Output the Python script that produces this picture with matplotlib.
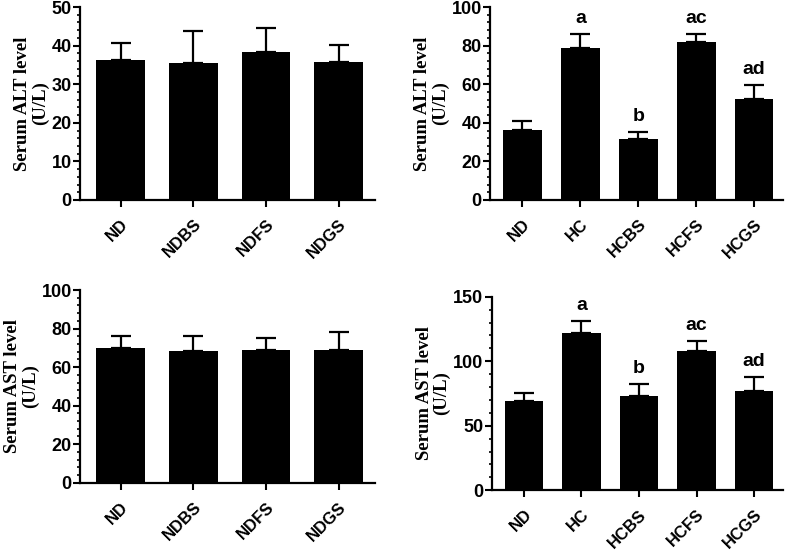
import numpy as np
import matplotlib
matplotlib.use("Agg")
from matplotlib import pyplot as plt
from matplotlib.ticker import AutoMinorLocator, MultipleLocator

plt.rcParams["font.family"] = ["Liberation Sans", "DejaVu Sans"]
plt.rcParams["font.weight"] = "bold"

# Normal-diet groups
nd_groups = ["ND", "NDBS", "NDFS", "NDGS"]
nd_alt_mean = [36.4, 35.4, 38.3, 35.7]
nd_alt_err = [4.4, 8.4, 6.3, 4.4]
nd_ast_mean = [69.7, 68.5, 69.0, 69.0]
nd_ast_err = [6.4, 7.6, 6.3, 9.4]

# High-cholesterol groups
hc_groups = ["ND", "HC", "HCBS", "HCFS", "HCGS"]
hc_alt_mean = [36.3, 78.9, 31.4, 81.9, 52.2]
hc_alt_err = [4.8, 7.3, 3.7, 4.3, 7.2]
hc_ast_mean = [69.2, 121.6, 72.8, 108.2, 77.2]
hc_ast_err = [6.2, 9.6, 9.3, 7.5, 10.3]
hc_letters = ["", "a", "b", "ac", "ad"]


def bar_panel(ax, groups, means, errs, ylim, ystep, ylabel, letters=None):
    x = np.arange(len(groups))
    ax.bar(x, means, width=0.67, color="black", zorder=2)
    ax.errorbar(x, means, yerr=[np.zeros(len(errs)), errs], fmt="none",
                ecolor="black", elinewidth=1.6, capsize=7, capthick=1.6, zorder=1)
    if letters:
        for xi, m, e, lab in zip(x, means, errs, letters):
            if lab:
                ax.annotate(lab, (xi, m + e), xytext=(0, 5), textcoords="offset points",
                            ha="center", va="bottom", fontsize=14, fontweight="bold")
    ax.set_xlim(-0.56, len(groups) - 0.5)
    ax.set_ylim(*ylim)
    ax.yaxis.set_major_locator(MultipleLocator(ystep))
    ax.yaxis.set_minor_locator(AutoMinorLocator(5))
    ax.set_xticks(x)
    ax.set_xticklabels(groups, rotation=45, ha="right", rotation_mode="anchor",
                       fontsize=12, fontweight="bold")
    for lab in ax.get_yticklabels():
        lab.set_fontsize(13)
        lab.set_fontweight("bold")
    ax.tick_params(axis="y", which="major", length=5, width=1.5, pad=1)
    ax.tick_params(axis="y", which="minor", length=2.5, width=1.2)
    ax.tick_params(axis="x", which="major", length=5, width=1.5, pad=7)
    for s in ["top", "right"]:
        ax.spines[s].set_visible(False)
    for s in ["left", "bottom"]:
        ax.spines[s].set_linewidth(1.6)
    ax.set_ylabel(ylabel, family="Liberation Serif", fontweight="bold",
                  fontsize=13.5, linespacing=1.0, labelpad=2)


fig = plt.figure(figsize=(7.87, 5.52), dpi=100)
ax1 = fig.add_axes([0.1017, 0.6377, 0.375, 0.3496])
ax2 = fig.add_axes([0.6226, 0.6377, 0.3723, 0.3496])
ax3 = fig.add_axes([0.1017, 0.1255, 0.375, 0.349])
ax4 = fig.add_axes([0.6248, 0.1118, 0.370, 0.3507])

bar_panel(ax1, nd_groups, nd_alt_mean, nd_alt_err, (0, 50), 10, "Serum ALT level\n(U/L)")
bar_panel(ax2, hc_groups, hc_alt_mean, hc_alt_err, (0, 100), 20, "Serum ALT level\n(U/L)", hc_letters)
bar_panel(ax3, nd_groups, nd_ast_mean, nd_ast_err, (0, 100), 20, "Serum AST level\n(U/L)")
bar_panel(ax4, hc_groups, hc_ast_mean, hc_ast_err, (0, 150), 50, "Serum AST level\n(U/L)", hc_letters)

fig.savefig("out.png", dpi=100)
